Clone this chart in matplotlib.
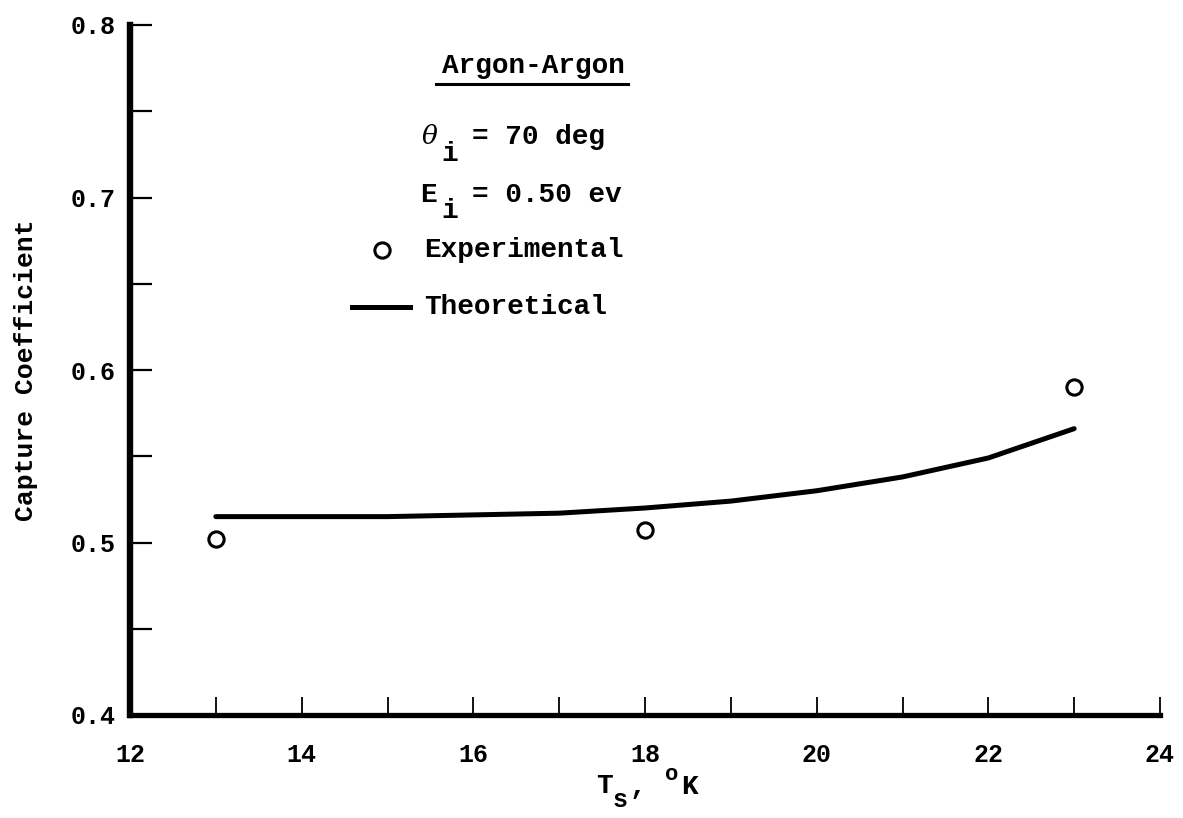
import matplotlib
matplotlib.use("Agg")
import matplotlib.pyplot as plt
from matplotlib.ticker import MultipleLocator, FixedLocator
from matplotlib.lines import Line2D

# Data
exp_T = [13, 18, 23]
exp_cap = [0.502, 0.507, 0.590]
theo_T = [13, 14, 15, 16, 17, 18, 19, 20, 21, 22, 23]
theo_cap = [0.515, 0.515, 0.515, 0.516, 0.517, 0.520, 0.524, 0.530, 0.538, 0.549, 0.566]
x_ticks = [12, 14, 16, 18, 20, 22, 24]
y_ticks = [0.4, 0.5, 0.6, 0.7, 0.8]

FONT = "Liberation Mono"
W, H = 1183, 818

fig = plt.figure(figsize=(W / 100, H / 100), dpi=100)
ax = fig.add_axes([130 / W, 1 - 715 / H, (1160 - 130) / W, (715 - 25) / H])

ax.plot(theo_T, theo_cap, color="black", lw=3.6, solid_capstyle="round")
ax.plot(exp_T, exp_cap, linestyle="none", marker="o", markersize=11,
        markerfacecolor="white", markeredgecolor="black", markeredgewidth=2.2)

ax.set_xlim(12, 24)
ax.set_ylim(0.4, 0.8)
for s in ["top", "right"]:
    ax.spines[s].set_visible(False)
ax.spines["left"].set_linewidth(4.6)
ax.spines["bottom"].set_linewidth(3.8)

ax.xaxis.set_major_locator(FixedLocator(x_ticks))
ax.xaxis.set_minor_locator(MultipleLocator(1))
ax.yaxis.set_major_locator(FixedLocator(y_ticks))
ax.yaxis.set_minor_locator(MultipleLocator(0.05))
ax.tick_params(axis="x", which="both", direction="in", length=13, width=1.3, pad=20)
ax.tick_params(axis="y", which="both", direction="in", length=16, width=1.6, pad=10)
ax.set_xticklabels([str(v) for v in x_ticks], fontfamily=FONT, fontweight="bold", fontsize=18)
ax.set_yticklabels([f"{v:.1f}" for v in y_ticks], fontfamily=FONT, fontweight="bold", fontsize=18)


def ptext(x, y, s, size=20, ha="left", va="center", **kw):
    fig.text(x / W, 1 - y / H, s, fontfamily=FONT, fontweight="bold", fontsize=size,
             ha=ha, va=va, **kw)


# y label
ptext(26, 370, "Capture Coefficient", size=19, ha="center", rotation=90)

# x label: T_s, °K
ptext(604, 786, "T", size=20, ha="center")
ptext(620, 800, "s", size=18, ha="center")
ptext(638, 787, ",", size=20, ha="center")
ptext(672, 774, "o", size=16, ha="center")
ptext(689, 787, "K", size=20, ha="center")

# Legend block
ptext(442, 66, "Argon-Argon")
fig.add_artist(Line2D([436 / W, 628 / W], [1 - 84 / H, 1 - 84 / H], color="black", lw=2.2))

fig.text(422 / W, 1 - 137 / H, "θ", fontfamily="DejaVu Serif", style="italic", fontsize=19, ha="left", va="center")
ptext(450, 154, "i", ha="center")
ptext(472, 137, "= 70 deg")

ptext(420, 195, "E")
ptext(450, 211, "i", ha="center")
ptext(472, 195, "= 0.50 ev")

fig.add_artist(Line2D([382 / W], [1 - 250 / H], marker="o", markersize=11,
                      markerfacecolor="white", markeredgecolor="black", markeredgewidth=2.2))
ptext(424, 250, "Experimental")

fig.add_artist(Line2D([352 / W, 410 / W], [1 - 307 / H, 1 - 307 / H], color="black", lw=3.6))
ptext(424, 307, "Theoretical")

fig.savefig("out.png", dpi=100)
